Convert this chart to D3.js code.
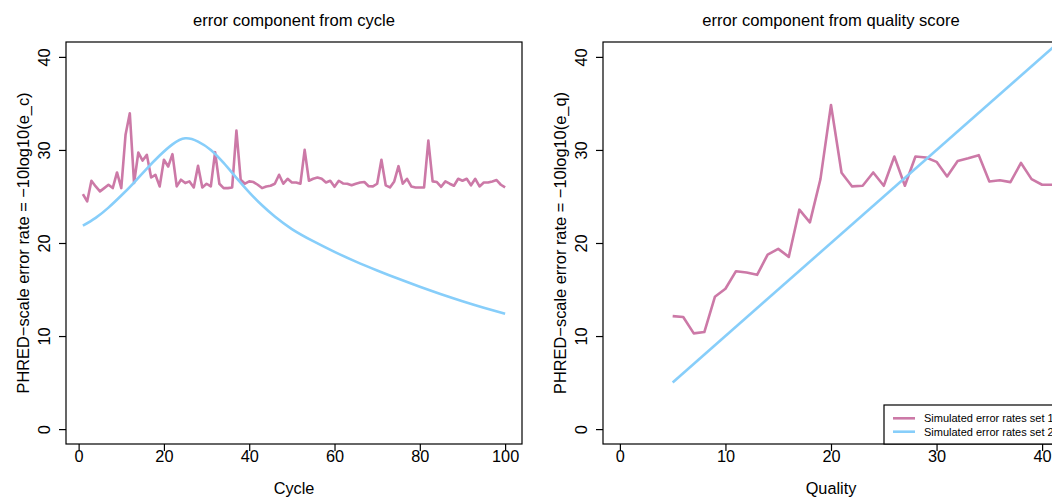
<!DOCTYPE html>
<html>
<head>
<meta charset="utf-8">
<script src="https://cdn.jsdelivr.net/npm/d3@7"></script>
<style>
  body { margin: 0; background: #fff; }
  svg { display: block; font-family: 'Liberation Sans', Arial, Helvetica, sans-serif; }
</style>
</head>
<body>
<div class="chart"></div>
<script>
// values
var cycles = d3.range(1, 101);
var cycleErr1 = [
  25.26, 24.47, 26.69, 26.08, 25.55, 25.9, 26.26, 25.9, 27.58, 25.9,
  31.62, 33.94, 26.44, 29.72, 28.86, 29.47, 27.04, 27.33, 26.08, 28.94,
  28.22, 29.55, 26.08, 26.8, 26.44, 26.62, 25.97, 28.3, 25.97, 26.37,
  26.08, 29.76, 26.37, 25.9, 25.9, 25.97, 32.08, 26.8, 26.37, 26.62,
  26.55, 26.26, 25.9, 26.08, 26.15, 26.37, 27.33, 26.37, 26.9, 26.5,
  26.5, 26.37, 30.01, 26.69, 26.9, 27.04, 26.9, 26.5, 26.69, 26.04,
  26.69, 26.4, 26.37, 26.2, 26.37, 26.5, 26.55, 26.1, 26.08, 26.37,
  28.94, 26.2, 25.97, 26.62, 28.26, 26.37, 26.9, 26.08, 25.97, 25.97,
  25.97, 31.01, 26.62, 26.55, 26.04, 26.62, 26.37, 26.15, 26.9, 26.69,
  26.9, 26.2, 26.9, 26.08, 26.5, 26.5, 26.62, 26.76, 26.26, 25.97
];
var cyclesSet2 = [1, 4, 7, 10, 13, 16, 19, 22, 25, 28, 31, 34, 37, 40, 43, 46, 50, 55, 60, 65, 70, 75, 80, 85, 90, 95, 100];
var cycleErr2 = [21.86, 22.7, 23.8, 25.1, 26.5, 28.0, 29.4, 30.6, 31.25, 30.9, 30.0, 28.6, 27.0, 25.45, 24.05, 22.85, 21.5, 20.2, 19.05, 18.0, 17.05, 16.15, 15.3, 14.5, 13.75, 13.05, 12.4];

var quals = [5, 6, 7, 8, 9, 10, 11, 12, 13, 14, 15, 16, 17, 18, 19, 20, 21, 22, 23, 24, 25, 26, 27, 28, 29, 30, 31, 32, 33, 34, 35, 36, 37, 38, 39, 40, 41];
var qualErr1 = [
  12.14, 12.04, 10.29, 10.43, 14.22, 15.08, 16.97, 16.83, 16.58, 18.76,
  19.37, 18.51, 23.58, 22.22, 26.87, 34.83, 27.55, 26.08, 26.15, 27.58,
  26.15, 29.29, 26.15, 29.29, 29.18, 28.72, 27.15, 28.8, 29.1, 29.44,
  26.6, 26.75, 26.54, 28.6, 26.86, 26.26, 26.26
];
var qualsSet2 = [5, 45];
var qualErr2 = [5, 45];

var yTicks = [0, 10, 20, 30, 40];
var cycleTicks = [0, 20, 40, 60, 80, 100];
var qualTicks = [0, 10, 20, 30, 40];
var legendLabels = ['Simulated error rates set 1', 'Simulated error rates set 2'];

var pink = '#CC79A7',
  blue = '#87CEFA';

var width = 1052,
  height = 499,
  plotTop = 42,
  plotBottom = 444;

var svg = d3
  .select('.chart')
  .append('svg')
  .attr('width', width)
  .attr('height', height);

var y = d3.scaleLinear().domain([-1.6, 41.6]).range([plotBottom, plotTop]);

function panel(opts) {
  var x = d3.scaleLinear().domain(opts.xDomain).range([opts.left, opts.right]);
  var g = svg.append('g');

  g.append('clipPath')
    .attr('id', opts.id)
    .append('rect')
    .attr('x', opts.left)
    .attr('y', plotTop)
    .attr('width', opts.right - opts.left)
    .attr('height', plotBottom - plotTop);

  var line = d3
    .line()
    .x((d) => x(d[0]))
    .y((d) => y(d[1]));

  g.append('path')
    .datum(opts.x1.map((d, i) => [d, opts.y1[i]]))
    .attr('clip-path', 'url(#' + opts.id + ')')
    .attr('d', line)
    .attr('fill', 'none')
    .attr('stroke', pink)
    .attr('stroke-width', 2.6)
    .attr('stroke-linejoin', 'round');

  g.append('path')
    .datum(opts.x2.map((d, i) => [d, opts.y2[i]]))
    .attr('clip-path', 'url(#' + opts.id + ')')
    .attr('d', line.curve(d3.curveNatural))
    .attr('fill', 'none')
    .attr('stroke', blue)
    .attr('stroke-width', 2.6);

  // box
  g.append('rect')
    .attr('x', opts.left)
    .attr('y', plotTop)
    .attr('width', opts.right - opts.left)
    .attr('height', plotBottom - plotTop)
    .attr('fill', 'none')
    .attr('stroke', '#000')
    .attr('stroke-width', 1.2);

  var xAxis = g
    .append('g')
    .attr('transform', 'translate(0,' + plotBottom + ')')
    .call(d3.axisBottom(x).tickValues(opts.xTicks).tickSize(7).tickFormat(d3.format('d')));
  xAxis.select('.domain').remove();
  xAxis.selectAll('line').attr('stroke-width', 1.2);
  xAxis
    .selectAll('text')
    .attr('y', 18)
    .attr('dy', 0)
    .attr('fill', '#000')
    .style('font-size', '16.3px')
    .style('font-family', "'Liberation Sans', Arial, sans-serif");

  var yAxis = g
    .append('g')
    .attr('transform', 'translate(' + opts.left + ',0)')
    .call(d3.axisLeft(y).tickValues(yTicks).tickSize(7));
  yAxis.select('.domain').remove();
  yAxis.selectAll('line').attr('stroke-width', 1.2);
  yAxis
    .selectAll('text')
    .attr('x', 0)
    .attr('dy', 0)
    .attr('transform', 'translate(-16,0) rotate(-90)')
    .attr('text-anchor', 'middle')
    .attr('fill', '#000')
    .style('font-size', '16.3px')
    .style('font-family', "'Liberation Sans', Arial, sans-serif");

  var cx = (opts.left + opts.right) / 2;

  g.append('text')
    .attr('x', cx)
    .attr('y', 25.5)
    .attr('text-anchor', 'middle')
    .style('font-size', '16.6px')
    .text(opts.title);

  g.append('text')
    .attr('x', cx)
    .attr('y', 494)
    .attr('text-anchor', 'middle')
    .style('font-size', '16.3px')
    .text(opts.xLabel);

  g.append('text')
    .attr('transform', 'translate(' + (opts.left - 37.5) + ',' + (plotTop + plotBottom) / 2 + ') rotate(-90)')
    .attr('text-anchor', 'middle')
    .style('font-size', '16.4px')
    .text(opts.yLabel);

  return x;
}

panel({
  id: 'clip-cycle',
  left: 66,
  right: 522,
  xDomain: [1 - 0.04 * 99, 100 + 0.04 * 99],
  x1: cycles,
  y1: cycleErr1,
  x2: cyclesSet2,
  y2: cycleErr2,
  xTicks: cycleTicks,
  title: 'error component from cycle',
  xLabel: 'Cycle',
  yLabel: 'PHRED\u2212scale error rate = \u221210log10(e_c)'
});

panel({
  id: 'clip-qual',
  left: 603,
  right: 1059,
  xDomain: [-1.6, 41.6],
  x1: quals,
  y1: qualErr1,
  x2: qualsSet2,
  y2: qualErr2,
  xTicks: qualTicks,
  title: 'error component from quality score',
  xLabel: 'Quality',
  yLabel: 'PHRED\u2212scale error rate = \u221210log10(e_q)'
});

// legend, bottom right of the quality panel
var legend = svg.append('g');
legend
  .append('rect')
  .attr('x', 884)
  .attr('y', 405)
  .attr('width', 1059 - 884)
  .attr('height', plotBottom - 405)
  .attr('fill', '#fff')
  .attr('stroke', '#000')
  .attr('stroke-width', 1.2);

legend
  .selectAll('.item')
  .data(legendLabels)
  .enter()
  .append('g')
  .attr('class', 'item')
  .each(function (d, i) {
    var item = d3.select(this);
    var yy = 418.3 + i * 13.4;
    item
      .append('line')
      .attr('x1', 893)
      .attr('x2', 915)
      .attr('y1', yy)
      .attr('y2', yy)
      .attr('stroke', i === 0 ? pink : blue)
      .attr('stroke-width', 2.6);
    item
      .append('text')
      .attr('x', 924)
      .attr('y', yy + 4)
      .style('font-size', '11px')
      .text(d);
  });
</script>
</body>
</html>
